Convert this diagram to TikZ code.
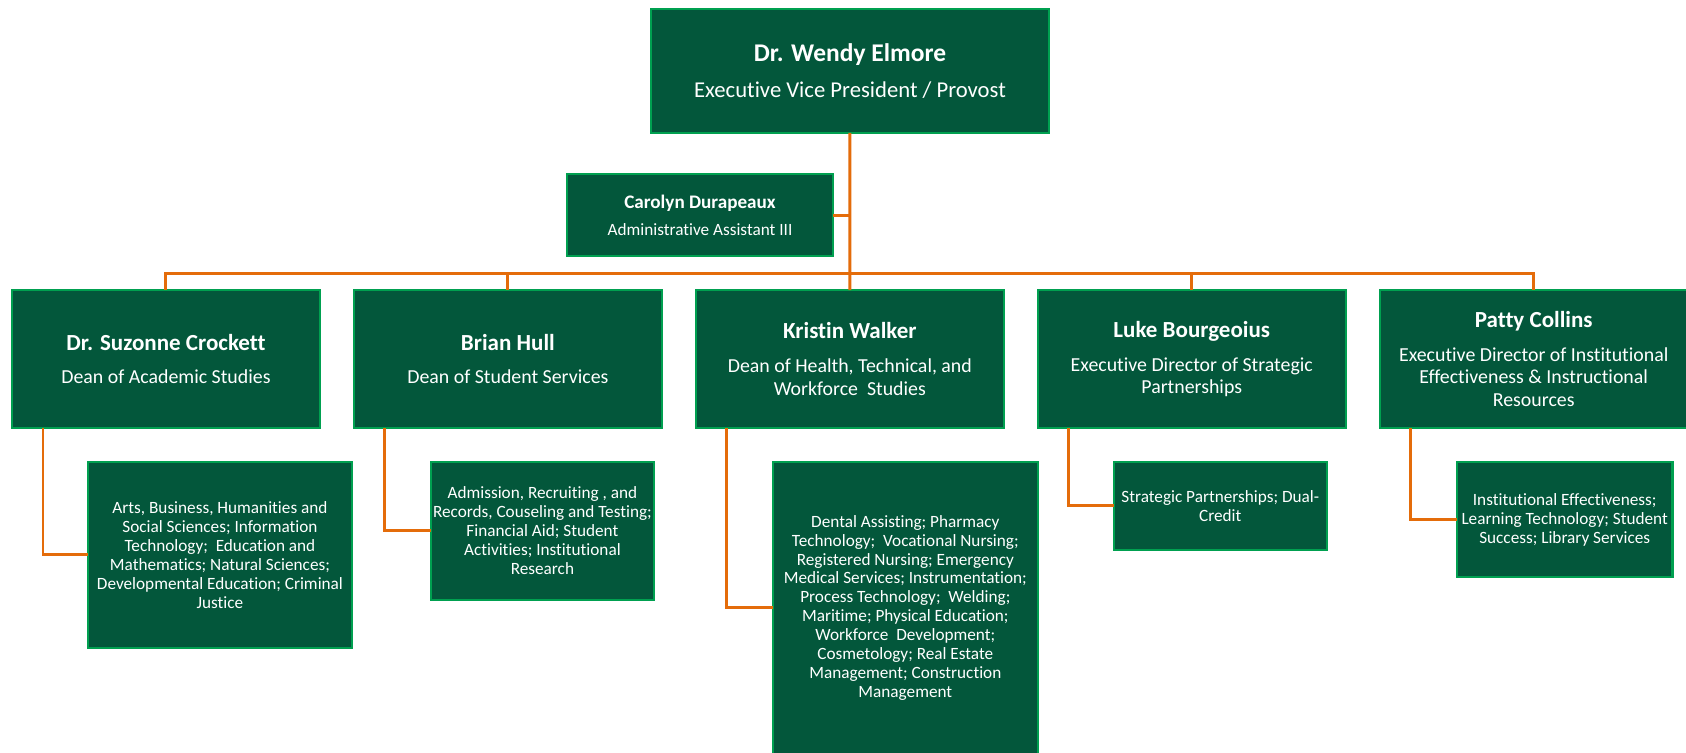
\documentclass[tikz,border=0pt]{standalone}
\usepackage{fontspec}
\setmainfont{Carlito}[RawFeature={-liga;-clig;-dlig;-calt}]
\usepackage{tikz}
\usetikzlibrary{positioning}

\definecolor{boxfill}{RGB}{3,87,59}
\definecolor{boxline}{RGB}{0,160,80}
\definecolor{linkorange}{RGB}{228,108,10}

\begin{document}
\begin{tikzpicture}[x=0.02cm, y=-0.02cm,
    orgbox/.style = {draw=boxline, fill=boxfill, line width=1.4pt, text=white, align=center, inner sep=0pt, outer sep=0pt},
    chiefbox/.style = {orgbox, minimum width=7.96cm, minimum height=2.48cm, font=\fontsize{12.9}{15.5}\selectfont},
    assistbox/.style = {orgbox, minimum width=5.32cm, minimum height=1.64cm, font=\fontsize{9.8}{11.8}\selectfont},
    deanbox/.style = {orgbox, minimum width=6.16cm, minimum height=2.76cm, font=\fontsize{11.3}{12.7}\selectfont},
    areabox/.style = {orgbox, font=\fontsize{9.8}{10.8}\selectfont},
    orgline/.style = {draw=linkorange, line width=1.7pt}]
                \useasboundingbox (0,0) rectangle (1686,752);
                \node[chiefbox] (provost) at (850,71) {{\fontsize{14.5}{17}\selectfont\bfseries Dr. Wendy Elmore}\\[5pt]Executive Vice President / Provost};
                \node[assistbox] (assist) at (700,215) {{\fontsize{10.9}{13}\selectfont\bfseries Carolyn Durapeaux}\\[3.7pt]Administrative Assistant III};
                \node[deanbox, anchor=north west] (acad) at (12,290) {{\fontsize{13.1}{15.7}\selectfont\bfseries Dr. Suzonne Crockett}\\[6.6pt]Dean of Academic Studies};
                \node[deanbox] (stud) [right=0.68cm of acad] {{\fontsize{13.1}{15.7}\selectfont\bfseries Brian Hull}\\[6.6pt]Dean of Student Services};
                \node[deanbox] (health) [right=0.68cm of stud] {{\fontsize{13.1}{15.7}\selectfont\bfseries Kristin Walker}\\[6.6pt]Dean of Health, Technical, and\\Workforce\ \ Studies};
                \node[deanbox] (strat) [right=0.68cm of health] {{\fontsize{13.1}{15.7}\selectfont\bfseries Luke Bourgeoius}\\[6.6pt]Executive Director of Strategic\\Partnerships};
                \node[deanbox] (inst) [right=0.68cm of strat] {{\fontsize{13.1}{15.7}\selectfont\bfseries Patty Collins}\\[6.6pt]Executive Director of Institutional\\Effectiveness \& Instructional\\Resources};
                \node[areabox, minimum width=5.28cm, minimum height=3.72cm] (acadarea) [below right=0.68cm and 1.52cm of acad.south west] {Arts, Business, Humanities and\\Social Sciences; Information\\Technology;\ \ Education and\\Mathematics; Natural Sciences;\\Developmental Education; Criminal\\Justice};
                \node[areabox, minimum width=4.46cm, minimum height=2.76cm] (studarea) [below right=0.68cm and 1.54cm of stud.south west] {Admission, Recruiting , and\\Records, Couseling and Testing;\\Financial Aid; Student\\Activities; Institutional\\Research};
                \node[areabox, minimum width=5.30cm, minimum height=5.84cm] (healtharea) [below right=0.68cm and 1.54cm of health.south west] {Dental Assisting; Pharmacy\\Technology;\ \ Vocational Nursing;\\Registered Nursing; Emergency\\Medical Services; Instrumentation;\\Process Technology;\ \ Welding;\\Maritime; Physical Education;\\Workforce\ \ Development;\\Cosmetology; Real Estate\\Management; Construction\\Management};
                \node[areabox, minimum width=4.26cm, minimum height=1.76cm] (stratarea) [below right=0.68cm and 1.52cm of strat.south west] {Strategic Partnerships; Dual-\\Credit};
                \node[areabox, minimum width=4.32cm, minimum height=2.30cm] (instarea) [below right=0.68cm and 1.54cm of inst.south west] {Institutional Effectiveness;\\Learning Technology; Student\\Success; Library Services};
                \coordinate (bus) at (850,273);
                \draw[orgline] (provost) -- (health);
                \draw[orgline] (assist.east) -- (assist.east -| provost.south);
                \draw[orgline] (acad.north) |- (bus) -| (inst.north);
                \draw[orgline] (stud.north) -- (stud.north |- bus);
                \draw[orgline] (strat.north) -- (strat.north |- bus);
                \draw[orgline] ([xshift=0.62cm]acad.south west) |- (acadarea.west);
                \draw[orgline] ([xshift=0.62cm]stud.south west) |- (studarea.west);
                \draw[orgline] ([xshift=0.62cm]health.south west) |- (healtharea.west);
                \draw[orgline] ([xshift=0.62cm]strat.south west) |- (stratarea.west);
                \draw[orgline] ([xshift=0.62cm]inst.south west) |- (instarea.west);
            \end{tikzpicture}
\end{document}
